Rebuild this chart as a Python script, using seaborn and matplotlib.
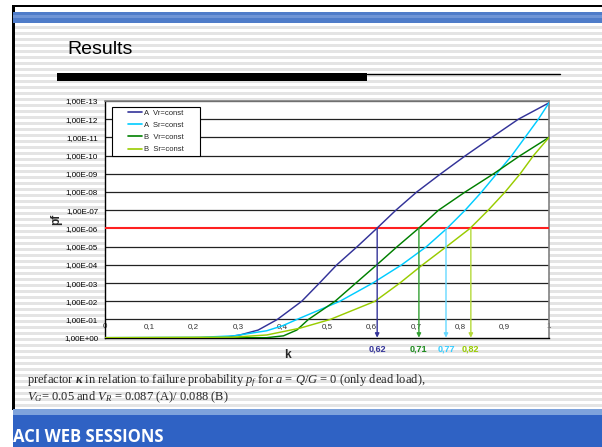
import matplotlib
matplotlib.use("Agg")
import numpy as np
import pandas as pd
import seaborn as sns
import matplotlib.pyplot as plt
from matplotlib.lines import Line2D
from matplotlib.legend_handler import HandlerLine2D
from matplotlib.ticker import FixedLocator, FuncFormatter, NullLocator
from matplotlib.patches import Rectangle
import matplotlib.transforms as mtransforms

# ---------------- data ----------------
series_names = ["A  Vr=const", "A  Sr=const", "B  Vr=const", "B  Sr=const"]

k_a_vr = [0.0, 0.20, 0.27, 0.304, 0.345, 0.388, 0.443, 0.483, 0.522, 0.568, 0.612,
          0.655, 0.702, 0.756, 0.812, 0.871, 0.931, 1.0]
pf_a_vr = [1.0, 1.0, 0.955, 0.71, 0.38, 1e-1, 1e-2, 1e-3, 1e-4, 1e-5, 1e-6,
           1e-7, 1e-8, 1e-9, 1e-10, 1e-11, 1e-12, 1.26e-13]

k_a_sr = [0.0, 0.214, 0.29, 0.364, 0.40, 0.432, 0.529, 0.603, 0.668, 0.724, 0.770,
          0.811, 0.848, 0.882, 0.916, 0.946, 0.976, 1.0]
pf_a_sr = [1.0, 0.955, 0.79, 0.417, 0.22, 1e-1, 1e-2, 1e-3, 1e-4, 1e-5, 1e-6,
           1e-7, 1e-8, 1e-9, 1e-10, 1e-11, 1e-12, 1.26e-13]

k_b_vr = [0.0, 0.364, 0.402, 0.432, 0.458, 0.518, 0.565, 0.612, 0.658, 0.706,
          0.751, 0.811, 0.875, 0.935, 1.0]
pf_b_vr = [1.0, 1.0, 0.79, 0.38, 1e-1, 1e-2, 1e-3, 1e-4, 1e-5, 1e-6,
           1e-7, 1e-8, 1e-9, 1e-10, 1e-11]

k_b_sr = [0.0, 0.29, 0.364, 0.439, 0.507, 0.608, 0.664, 0.715, 0.769, 0.822,
          0.863, 0.901, 0.935, 0.965, 1.0]
pf_b_sr = [1.0, 0.93, 0.71, 0.30, 1e-1, 1e-2, 1e-3, 1e-4, 1e-5, 1e-6,
           1e-7, 1e-8, 1e-9, 1e-10, 1e-11]

line_colors = ["#333399", "#00ccff", "#008000", "#99cc00"]

target_pf = 1e-6
arrow_k = [0.613, 0.707, 0.768, 0.824]
arrow_labels = ["0,62", "0,71", "0,77", "0,82"]
arrow_colors = ["#333399", "#33a033", "#66d9ff", "#b5d93a"]
arrow_label_colors = ["#333399", "#1a8a1a", "#33ccff", "#99cc00"]

x_ticks = [0, 0.1, 0.2, 0.3, 0.4, 0.5, 0.6, 0.7, 0.8, 0.9, 1.0]
x_tick_labels = ["0", "0,1", "0,2", "0,3", "0,4", "0,5", "0,6", "0,7", "0,8", "0,9", "1"]
y_exponents = list(range(0, -14, -1))

# ---------------- style ----------------
sns.set_style("white")
plt.rcParams["font.family"] = ["Liberation Sans", "DejaVu Sans"]
plt.rcParams["mathtext.fontset"] = "custom"
plt.rcParams["mathtext.rm"] = "Liberation Serif"
plt.rcParams["mathtext.it"] = "Liberation Serif:italic"
plt.rcParams["mathtext.bf"] = "Liberation Serif:bold"
try:
    plt.rcParams["mathtext.bfit"] = "Liberation Serif:bold:italic"
except KeyError:
    pass

W, H = 602, 447
fig = plt.figure(figsize=(W / 100, H / 100), dpi=100)
fig.patch.set_facecolor("white")

# ---------------- slide background ----------------
bg = fig.add_axes([0, 0, 1, 1], zorder=-10)
bg.set_xlim(0, W)
bg.set_ylim(H, 0)
bg.axis("off")
for yy in np.arange(26, 408, 6):
    bg.add_patch(Rectangle((15, yy), W - 15, 2.6, color="#e4e4e4", lw=0))
bg.add_patch(Rectangle((13, 5), W - 13, 2.2, color="black", lw=0))
bg.add_patch(Rectangle((12, 5), 2.6, 405, color="black", lw=0))
bg.add_patch(Rectangle((13, 12), W - 13, 11, color="#4f7cc9", lw=0))
bg.add_patch(Rectangle((13, 15), W - 13, 3, color="#6f95d6", lw=0))
bg.add_patch(Rectangle((13, 409), W - 13, 6, color="#7ea3dc", lw=0))
bg.add_patch(Rectangle((13, 415), W - 13, 32, color="#2f62c4", lw=0))
bg.text(67, 50, "Results", fontsize=14, va="center", ha="left", color="black")
bg.add_patch(Rectangle((57, 73), 310, 7.5, color="black", lw=0))
bg.plot([367, 560], [73.6, 73.6], color="black", lw=1.0)
bg.text(27, 381, r"prefactor $\boldsymbol{\kappa}$ in relation to failure probability $p_f$ for $a$ = $Q/G$ = 0 (only dead load),",
        fontsize=9, va="center", ha="left", family="Liberation Serif")
bg.text(27, 397, r"$V_G$= 0.05 and $V_R$ = 0.087 (A)/ 0.088 (B)",
        fontsize=9, va="center", ha="left", family="Liberation Serif")
bg.text(13, 437, "ACI WEB SESSIONS", fontsize=12, fontweight="bold", color="white",
        va="center", ha="left", family=["Open Sans", "DejaVu Sans"])

# ---------------- chart ----------------
left, right, top, bottom = 105, 549, 101, 337.7
ax = fig.add_axes([left / W, 1 - bottom / H, (right - left) / W, (bottom - top) / H])
ax.set_facecolor("white")

frames = []
for name, kk, pp in zip(series_names, [k_a_vr, k_a_sr, k_b_vr, k_b_sr],
                        [pf_a_vr, pf_a_sr, pf_b_vr, pf_b_sr]):
    frames.append(pd.DataFrame({"k": kk, "pf": pp, "series": name}))
df = pd.concat(frames, ignore_index=True)

sns.lineplot(data=df, x="k", y="pf", hue="series", palette=dict(zip(series_names, line_colors)),
             sort=False, estimator=None, legend=False, lw=1.05, ax=ax, zorder=4)

ax.set_yscale("log")
ax.set_ylim(1.0, 1e-13)
ax.set_xlim(0, 1)

ax.yaxis.set_major_locator(FixedLocator([10.0 ** e for e in y_exponents]))
ax.yaxis.set_minor_locator(NullLocator())


def fmt_y(v, pos):
    e = int(round(np.log10(v)))
    sign = "+" if e >= 0 else "-"
    return f"1,00E{sign}{abs(e):02d}"


ax.yaxis.set_major_formatter(FuncFormatter(fmt_y))
ax.set_xticks(x_ticks)
ax.set_xticklabels(x_tick_labels)
ax.tick_params(axis="y", direction="out", length=3, width=0.8, pad=2, labelsize=5.8, colors="black")
ax.tick_params(axis="x", direction="in", length=3, width=0.8, pad=-10.5, labelsize=5.8, colors="black")
ax.tick_params(axis="x", labelcolor="#333333")

ax.grid(False)
for e in y_exponents[1:]:
    v = 10.0 ** e
    if v == target_pf:
        continue
    ax.axhline(v, color="#222222", lw=0.9, zorder=1)
ax.axhline(target_pf, color="#ff2020", lw=1.5, zorder=3)

for s in ["left", "bottom"]:
    ax.spines[s].set_color("black")
    ax.spines[s].set_linewidth(1.0)
for s in ["top", "right"]:
    ax.spines[s].set_color("#808080")
    ax.spines[s].set_linewidth(1.2)

# arrows from the 1e-6 crossing down to the axis
for kx, col in zip(arrow_k, arrow_colors):
    ax.annotate("", xy=(kx, 1.0), xytext=(kx, target_pf),
                arrowprops=dict(arrowstyle="-|>", color=col, lw=1.0, mutation_scale=6,
                                shrinkA=0, shrinkB=0), zorder=5)

trans = mtransforms.blended_transform_factory(ax.transData, ax.transAxes)
for kx, lab, col in zip(arrow_k, arrow_labels, arrow_label_colors):
    ax.text(kx, -0.048, lab, transform=trans, ha="center", va="center", color=col,
            fontsize=6.5, fontweight="bold")

ax.set_xlabel("k", fontsize=8.5, fontweight="bold")
ax.xaxis.set_label_coords(0.412, -0.075)
ax.xaxis.label.set_va("center")
ax.set_ylabel("pf", fontsize=8.5, fontweight="bold")
ax.yaxis.set_label_coords(-0.11, 0.5)
ax.yaxis.label.set_va("center")

handles = [Line2D([0], [0], color=c, lw=1.2) for c in line_colors]
leg_labels = [s + "      " for s in series_names]
leg = ax.legend(handles, leg_labels, loc="upper left", bbox_to_anchor=(0.0158, 0.975),
                fontsize=5.5, frameon=True, fancybox=False, framealpha=1,
                edgecolor="black", borderpad=0.35, handlelength=3.6, handletextpad=0.3,
                labelspacing=0.62, borderaxespad=0,
                handler_map={Line2D: HandlerLine2D(xpad=1.75)})
leg.get_frame().set_linewidth(0.8)
leg.set_zorder(10)

fig.savefig("out.png", dpi=100)
